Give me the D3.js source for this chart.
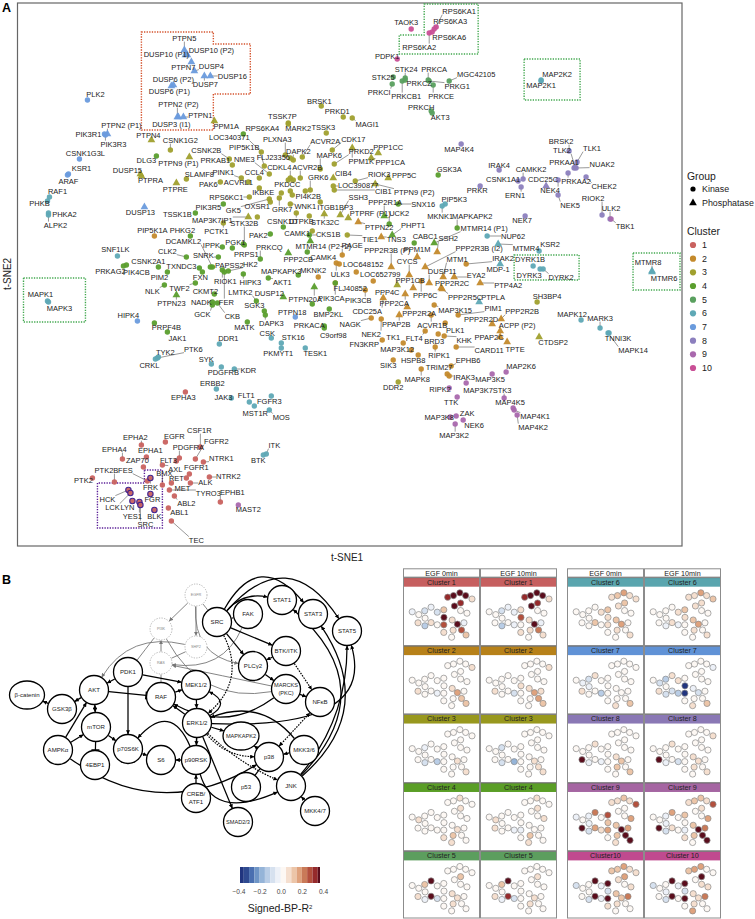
<!DOCTYPE html>
<html><head><meta charset="utf-8">
<script src="https://cdnjs.cloudflare.com/ajax/libs/d3/7.8.5/d3.min.js"></script>
<style>html,body{margin:0;padding:0;background:#fff}svg{display:block}text{font-family:"Liberation Sans",Arial,sans-serif}</style>
</head><body><svg id="fig" width="755" height="919"></svg>
<script>
// ---------- Panel A data: t-SNE readings, one list per cluster [name, tSNE1, tSNE2] ----------
const cluster1=[["EPHA3",185,392],["EPHA2",141,445],["EGFR",165,442],["CSF1R",200,447],["FGFR2",195,459],["PDGFRA",179,458],["EPHA1",146,457],["EPHA4",122,459],["FLT3",176,461],["NTRK1",203,462],["ZAP70",143,467],["AXL",162,465],["FGFR1",189,474],["NTRK2",209,477],["PTK2",92,478],["PTK2B",114,482],["FES",147,481],["BMX",162,485],["RET",186,478],["ALK",190,483],["MET",171,483],["TYRO3",169,490],["ABL2",174,496],["EPHB1",220,502],["ABL1",168,508],["TEC",171,521],["FRK",150,478],["HCK",128,490],["LCK",130,493],["LYN",132,501],["FGR",150,494],["YES1",139,502],["SRC",140,505],["BLK",154,510]];
const cluster2=[["PIP5K1A",154,236],["MKNK2",318,277],["RAGE",342,255],["LOC648152",339,264],["LOC652799",356,272],["FLJ40852",335,283],["ULK3",336,263],["PIK3CB",365,290],["",373,281],["PPP2R3B (P)",391,267],["PPM1M",417,257],["SSH2",437,252],["PPP2R3B (I2)",425,267],["CYCS",409,275],["MTM1",443,277],["DUSP11",429,283],["EYA2",454,277],["IRAK2",466,264],["PPP1CB",413,288],["PPP6C",421,281],["PPP2R2C",441,288],["PPP2R5C",442,289],["PTP4A2",480,283],["PPP2CA",405,294],["CDC25A",383,298],["PPP2R2A",407,307],["PPAP2B",399,315],["NAGK",371,318],["NEK2",381,319],["FN3KRP",382,340],["TK1",403,343],["FLT4",425,331],["MAP3K12",411,350],["HSPB8",418,355],["SIK3",393,360],["BRD3",438,334],["KHK",444,336],["ACVR1B",431,315],["PLK1",445,323],["MAP3K15",434,305],["PIM1",458,315],["RIPK1",435,347],["CARD11",456,347],["EPHB6",451,366],["MAPK8",421,369],["TRIM27",447,374],["IRAK3",449,376],["PPP2R2B",501,319],["PPP2R2D",492,324],["ACPP (P2)",500,331],["PPAP2C",500,337],["TPTE",507,342],["PTPN22",358,222],["TNS3",381,237]];
const cluster3=[["PPM1A",214,121],["PTPN4",151,140],["CSNK1G2",170,150],["PTPN9 (P1)",189,157],["DUSP15",140,174],["PTPRA",141,176],["PTPRE",176,183],["SLAMF8",186,179],["CSNK2B",229,159],["PRKAB1",232,165],["LOC340371",261,152],["PIP5K1B",264,166],["NME3",269,174],["PLXNA3",285,155],["TSSK7P",288,123],["MARK2",288,124],["TSSK3",326,133],["FLJ23356",290,158],["DAPK2",293,160],["ACVR2A",302,157],["CDK17",332,150],["MAPK6",320,169],["PRKD2",334,164],["PPM1K",352,148],["PPP1CC",378,153],["PPP1CA",371,158],["CDKL4",290,178],["ACVR2B",300,178],["PINK1",241,178],["ACVRL1",248,182],["PAK6",220,182],["CCL4",259,178],["GRK6",310,190],["CIB4",333,178],["RIOK3",355,181],["PPP5C",388,178],["LOC390877",333,186],["CIB1",334,190],["PTPN9 (P2)",375,184],["PKDCC",290,191],["PI4K2B",305,191],["IKBKE",259,188],["RPS6KC1",249,197],["GK5",269,199],["OXSR1",270,202],["GRK7",279,198],["WNK1",290,204],["ITGB1BP3",320,202],["SSH3",340,215],["PTPRF (P1)",348,218],["STK32C",324,214],["DTPKB",296,213],["PCTK1",223,223],["MAP3K7IP1",248,217],["CAMK1",312,231],["TIE1",347,235],["BRSK1",321,106],["PRKD1",343,117],["MAGI1",352,118],["SH3BP4",537,302],["CTDSP2",539,337],["DDR2",398,382],["PPP4C",397,285],["",281,193],["",257,217],["",309,216],["",293,180],["",288,180],["",292,195]];
const cluster4=[["RPS6KA4",243,134],["DLG3",156,156],["PIK3R5",223,204],["TSSK1B",195,213],["PHKG2",190,236],["DCAMKL2",212,267],["CLK2",186,257],["SNRK",218,257],["IPPK",222,247],["PGK1",243,244],["STK32B",244,245],["PRPS1",232,248],["PAK2",270,234],["CSNK1D",283,227],["CSNK2A1",158,267],["PRKAG2",126,265],["PIK4CB",123,266],["PIM2",167,272],["TXNDC3",199,268],["PAPSS2",210,267],["HK2",228,271],["PRKCQ",260,259],["MAPKAPK3",298,275],["AKT1",268,278],["HIPK3",243,274],["RIOK1",222,270],["FER",224,272],["FXN",202,272],["CKMT2",214,294],["TWF2",195,283],["NLK",164,285],["PTPN23",176,295],["NADK",212,302],["GCK",212,305],["CKB",217,303],["LMTK2",256,301],["DUSP12",283,297],["SGK3",264,311],["DAPK3",265,315],["MATK",247,322],["PTPN20A",314,287],["",312,304],["BMP2KL",329,309],["PRKACA",324,326],["C9orf98",324,328],["PRPF4B",154,323],["JAK1",167,332],["MTMR14 (P2−2)",310,241],["PPP2CB",288,253],["CAMK4",307,252],["PIK3CA",335,283],["CKS1B",309,235],["GSK3A",438,175],["UCK2",389,224],["SNX16",398,204],["PPP2R1A",384,216],["PHPT1",392,235],["CABC1",414,243],["MAPKAPK2",457,228],["MTMR14 (P1)",434,243]];
const cluster5=[["STK24",405,78],["STK25",393,77],["PRKCI",392,84],["PRKCB1",402,81],["PRKCZ",405,80],["PRKCA",428,80],["MGC42105",449,81],["PRKG1",429,81],["PRKCE",433,85],["PRKCH",431,111],["AKT3",432,113]];
const cluster6=[["RAF1",49,197],["PHKB",47,201],["PHKA2",48,213],["ALPK2",48,215],["SNF1LK",117,256],["MAPK1",47,301],["MAPK3",48,302],["DDR1",219,344],["CSK",271,338],["STK16",281,343],["PKMYT1",281,348],["TESK1",305,348],["TYK2",158,357],["PTK6",157,358],["CRKL",155,359],["SYK",211,364],["PDGFRB",221,367],["KDR",234,369],["ERBB2",216,389],["JAK3",231,398],["FLT1",249,402],["FGFR3",271,396],["MST1R",254,406],["MOS",269,410],["ITK",266,454],["BTK",263,455],["MAP2K2",541,80],["MAP2K1",541,81],["PIP5K3",445,204],["MKNK1",442,206],["NUP62",487,236],["MTMR4",498,244],["KSR2",539,251],["MDP-1",500,264],["DYRK1B",533,266],["DYRK3",540,269],["DYRK2",543,269],["MTMR8",652,271],["MTMR6",652,272],["PTPLA",479,302],["MAPK12",581,320],["MARK3",600,328],["TNNI3K",609,333],["MAPK14",608,333]];
const cluster7=[["PLK2",87,100],["PIK3R1",104,134],["PTPN2 (P1)",107,134],["PIK3R3",105,135],["CSNK1G3L",79,159],["KSR1",68,174],["ARAF",67,175],["DUSP13",144,207],["HIPK4",137,321],["PTPN18",295,317],["PTPN5",184,50],["DUSP10 (P1)",185,55],["DUSP10 (P2)",187,55],["PTPN7",191,62],["DUSP4",194,71],["DUSP7",204,76],["DUSP16",210,76],["DUSP6 (P2)",173,85],["DUSP6 (P1)",171,86],["PTPN2 (P2)",177,117],["PTPN1",183,117],["DUSP3 (I1)",178,117]];
const cluster8=[["MAP4K4",461,144],["IRAK4",499,170],["CAMKK2",523,179],["CSNK1A1",518,181],["CDC25C",546,186],["ERN1",521,187],["NEK4",558,180],["PRKAA2",568,173],["PRKAA1",574,168],["NUAK2",576,168],["BRSK2",569,151],["TLK2",575,167],["TLK1",577,162],["CHEK2",586,177],["PRKR",480,186],["NEK5",558,195],["NEK7",525,216],["RIOK2",602,215],["ULK2",610,219]];
const cluster9=[["TBK1",611,219],["MAST2",238,505],["MAP2K6",506,372],["MAP3K5",492,374],["MAP3K7",466,383],["RIPK2",449,388],["TTK",457,397],["STK3",504,398],["MAP4K5",513,408],["MAP4K1",514,410],["MAP4K2",517,415],["ZAK",456,416],["MAP3K8",450,417],["NEK6",463,420],["MAP3K2",455,424]];
const cluster10=[["TAOK3",411,29],["RPS6KA1",436,27],["RPS6KA3",434,29],["RPS6KA6",432,32],["RPS6KA2",429,33],["PDPK1",397,59]];
const clusterLists=[cluster1,cluster2,cluster3,cluster4,cluster5,cluster6,cluster7,cluster8,cluster9,cluster10];
const clusterNames=["1","2","3","4","5","6","7","8","9","10"];
const clusterColors=["#c9625f","#c48a2c","#a0a02e","#5a9e2d","#5aa05f","#5ea8b5","#6a9bdd","#8c7fbe","#a968ad","#c94f96"];
const stripColors=["#c65f5f","#b78119","#98981e","#5a9e26","#5c9e5e","#5aa5ae","#6092d6","#8a78b5","#a565a2","#c04a8f"];
const phosphatases=["PTPN5","DUSP10 (P1)","DUSP10 (P2)","PTPN7","DUSP4","DUSP7","DUSP16","DUSP6 (P2)","DUSP6 (P1)","PTPN2 (P2)","PTPN1","DUSP3 (I1)","PTPN2 (P1)","DUSP13","PPM1A","PTPN4","PTPN9 (P1)","DUSP15","PTPRA","PTPRE","PPM1K","PPP1CC","PPP1CA","CIB4","PPP5C","PTPN9 (P2)","SSH3","PTPRF (P1)","STK32C","MAP3K7IP1","CTDSP2","PPP4C","PPP2R3B (P)","PPM1M","SSH2","PPP2R3B (I2)","CYCS","MTM1","DUSP11","EYA2","PPP1CB","PPP2R2C","PPP2R5C","PTP4A2","PPP2CA","CDC25A","PPP2R2A","PPAP2B","PPP2R2B","PPP2R2D","ACPP (P2)","PPAP2C","TPTE","PTPN22","TNS3","PTPN23","DUSP12","PTPN20A","MTMR14 (P2−2)","PPP2CB","PPP2R1A","PHPT1","MTMR14 (P1)","MTMR4","MDP-1","MTMR8","MTMR6","PTPLA","CDC25C"];
const highlighted=["FRK","HCK","LCK","LYN","FGR","YES1","SRC","BLK"];

// ---------- Panel A label placement (repelled label centres) ----------
const labelSpots={PLK2:[95,94],PIK3R1:[88,134],"PTPN2 (P1)":[121,125],PIK3R3:[113,144],CSNK1G3L:[85,153],KSR1:[81,168],ARAF:[68,181],DUSP13:[140,212],HIPK4:[128,315],PTPN18:[292,312],PTPN5:[184,38],"DUSP10 (P1)":[166,54],"DUSP10 (P2)":[211,50],PTPN7:[183,67],DUSP4:[211,66],DUSP7:[205,84],DUSP16:[232,76],"DUSP6 (P2)":[173,79],"DUSP6 (P1)":[169,91],"PTPN2 (P2)":[178,104],PTPN1:[200,115],"DUSP3 (I1)":[171,124],
RAF1:[57,191],PHKB:[39,203],PHKA2:[64,214],ALPK2:[55,225],SNF1LK:[115,249],MAPK1:[40,294],MAPK3:[59,308],DDR1:[228,338],CSK:[267,333],STK16:[293,337],PKMYT1:[278,353],TESK1:[315,353],TYK2:[165,352],PTK6:[193,349],CRKL:[149,365],SYK:[206,359],PDGFRB:[223,372],KDR:[248,370],ERBB2:[212,383],JAK3:[223,397],FLT1:[246,395],FGFR3:[269,401],MST1R:[255,413],MOS:[281,417],ITK:[274,445],BTK:[258,460],MAP2K2:[557,74],MAP2K1:[541,85],PIP5K3:[454,199],MKNK1:[440,216],NUP62:[513,236],MTMR4:[526,248],KSR2:[550,244],"MDP-1":[498,269],DYRK1B:[530,259],DYRK3:[529,275],DYRK2:[561,277],MTMR8:[648,262],MTMR6:[664,278],PTPLA:[493,297],MAPK12:[572,314],MARK3:[600,318],TNNI3K:[618,338],MAPK14:[633,350],
EPHA3:[183,397],EPHA2:[135,437],EGFR:[174,436],CSF1R:[199,430],FGFR2:[216,441],PDGFRA:[188,447],EPHA1:[150,450],EPHA4:[114,449],FLT3:[168,460],NTRK1:[221,458],ZAP70:[137,460],AXL:[175,469],FGFR1:[196,467],NTRK2:[228,476],PTK2:[83,480],PTK2B:[106,470],FES:[125,470],BMX:[164,473],RET:[176,478],ALK:[205,482],MET:[182,488],TYRO3:[208,493],ABL2:[186,503],EPHB1:[232,492],ABL1:[179,512],TEC:[196,540],FRK:[150,487],HCK:[107,499],LCK:[112,507],LYN:[127,507],FGR:[152,499],YES1:[132,516],SRC:[145,524],BLK:[154,516],MAST2:[248,509],
TAOK3:[406,22],RPS6KA1:[459,11],RPS6KA3:[450,21],RPS6KA6:[449,37],RPS6KA2:[419,47],PDPK1:[387,56],
STK24:[406,69],STK25:[383,77],PRKCI:[379,92],PRKCB1:[406,96],PRKCZ:[419,83],PRKCA:[434,69],MGC42105:[476,74],PRKG1:[457,86],PRKCE:[441,96],PRKCH:[421,107],AKT3:[440,117],
MAP4K4:[459,149],GSK3A:[449,169],IRAK4:[499,165],CAMKK2:[531,169],CSNK1A1:[503,179],CDC25C:[543,179],ERN1:[515,195],NEK4:[550,190],PRKAA2:[576,181],PRKAA1:[564,162],NUAK2:[602,164],BRSK2:[561,141],TLK2:[562,150],TLK1:[592,148],CHEK2:[604,186],PRKR:[477,190],NEK5:[570,205],NEK7:[522,220],RIOK2:[593,198],ULK2:[611,208],TBK1:[625,226],
MAP2K6:[521,366],MAP3K5:[490,379],MAP3K7:[478,390],RIPK2:[440,389],TTK:[451,402],STK3:[502,390],MAP4K5:[510,402],MAP4K1:[535,416],MAP4K2:[533,427],ZAK:[467,413],MAP3K8:[439,417],NEK6:[474,425],MAP3K2:[454,435],
PPM1A:[226,126],PTPN4:[148,135],CSNK1G2:[180,140],"PTPN9 (P1)":[178,163],DUSP15:[127,170],PTPRA:[150,180],PTPRE:[175,189],SLAMF8:[199,174],CSNK2B:[206,150],PRKAB1:[215,160],LOC340371:[229,137],PIP5K1B:[244,147],NME3:[244,159],PLXNA3:[277,139],TSSK7P:[282,116],MARK2:[298,128],TSSK3:[323,127],FLJ23356:[273,157],DAPK2:[298,151],ACVR2A:[325,141],CDK17:[353,139],MAPK6:[329,155],PRKD2:[361,151],PPM1K:[361,161],PPP1CC:[388,147],PPP1CA:[390,162],CDKL4:[279,167],ACVR2B:[307,167],PINK1:[223,172],ACVRL1:[238,182],PAK6:[208,184],CCL4:[254,172],GRK6:[318,177],CIB4:[343,173],RIOK3:[379,174],PPP5C:[404,175],LOC390877:[358,185],CIB1:[383,191],"PTPN9 (P2)":[414,192],PKDCC:[287,184],PI4K2B:[308,196],IKBKE:[263,192],RPS6KC1:[226,197],GK5:[233,210],OXSR1:[257,206],GRK7:[282,209],WNK1:[305,206],ITGB1BP3:[335,207],SSH3:[358,197],"PTPRF (P1)":[370,213],STK32C:[325,222],DTPKB:[301,221],PCTK1:[216,231],MAP3K7IP1:[212,220],CAMK1:[297,233],TIE1:[370,239],BRSK1:[319,101],PRKD1:[337,111],MAGI1:[367,124],SH3BP4:[547,296],CTDSP2:[553,342],DDR2:[393,387],PPP4C:[387,292],
RPS6KA4:[262,128],DLG3:[146,160],PIK3R5:[208,207],TSSK1B:[177,214],PHKG2:[182,230],DCAMKL2:[183,241],CLK2:[167,251],SNRK:[203,255],IPPK:[211,245],PGK1:[235,242],STK32B:[244,223],PRPS1:[246,254],PAK2:[258,235],CSNK1D:[282,221],CSNK2A1:[148,261],PRKAG2:[110,271],PIK4CB:[136,272],PIM2:[159,277],TXNDC3:[181,266],PAPSS2:[229,265],HK2:[250,264],PRKCQ:[269,247],MAPKAPK3:[281,271],AKT1:[282,282],HIPK3:[250,282],RIOK1:[225,281],FER:[226,302],FXN:[200,277],CKMT2:[205,291],TWF2:[179,288],NLK:[152,291],PTPN23:[171,303],NADK:[201,302],GCK:[202,314],CKB:[232,316],LMTK2:[240,292],DUSP12:[269,293],SGK3:[254,305],DAPK3:[271,323],MATK:[244,327],PTPN20A:[305,299],BMP2KL:[328,314],PRKACA:[309,325],C9orf98:[333,335],PRPF4B:[166,327],JAK1:[177,338],"MTMR14 (P2−2)":[323,246],PPP2CB:[298,259],CAMK4:[323,257],PIK3CA:[331,298],CKS1B:[328,234],UCK2:[399,213],SNX16:[423,204],PPP2R1A:[385,202],PHPT1:[413,225],CABC1:[425,236],MAPKAPK2:[472,216],"MTMR14 (P1)":[484,228],
PIP5K1A:[152,230],MKNK2:[313,270],RAGE:[352,245],LOC648152:[363,264],LOC652799:[380,274],FLJ40852:[350,288],ULK3:[340,274],PIK3CB:[358,300],"PPP2R3B (P)":[387,250],PPM1M:[417,249],SSH2:[448,238],"PPP2R3B (I2)":[479,248],CYCS:[407,261],MTM1:[457,259],DUSP11:[442,271],EYA2:[476,275],IRAK2:[503,258],PPP1CB:[410,280],PPP6C:[425,295],PPP2R2C:[452,283],PPP2R5C:[465,297],PTP4A2:[508,285],PPP2CA:[394,303],CDC25A:[367,311],PPP2R2A:[419,313],PPAP2B:[396,324],NAGK:[350,324],NEK2:[371,334],FN3KRP:[364,344],TK1:[393,337],FLT4:[414,338],MAP3K12:[397,349],HSPB8:[413,360],SIK3:[388,365],BRD3:[434,341],KHK:[464,340],ACVR1B:[432,325],PLK1:[455,330],MAP3K15:[455,310],PIM1:[493,308],RIPK1:[439,355],CARD11:[489,350],EPHB6:[468,360],MAPK8:[417,379],TRIM27:[439,367],IRAK3:[464,377],PPP2R2B:[522,311],PPP2R2D:[481,319],"ACPP (P2)":[517,325],PPAP2C:[489,337],TPTE:[515,349],PTPN22:[379,227],TNS3:[396,239]};

// ---------- Panel A annotation outlines, in t-SNE reading units ----------
const boxRed=[[141,32],[213,32],[213,44],[250,44],[250,94],[213,94],[213,130],[141,130]];
const boxPurple=[[144,470],[162,470],[162,528],[97,528],[97,483],[144,483]];
const boxesGreen=[[[424,4],[478,4],[478,54],[399,54],[399,35],[424,35]],[[524,59],[580,59],[580,100],[524,100]],[[514,255],[579,255],[579,280],[514,280]],[[633,253],[680,253],[680,290],[633,290]],[[23,278],[85,278],[85,322],[23,322]]];

// ---------- Panel B network ----------
const nodeNames=["EGFR","PI3K","SHP2","RAS","SRC","FAK","STAT1","STAT3","STAT5","BTK/ITK","PLCγ2","MARCKS|(PKC)","NFκB","PDK1","AKT","RAF","MEK1/2","ERK1/2","GSK3β","β-catenin","mTOR","AMPKα","4EBP1","p70S6K","S6","p90RSK","CREB/|ATF1","MAPKAPK2","p38","MKK3/6","p53","JNK","MKK4/7","SMAD2/3"];
const nodeX=[196,161,196,161,217,248,282,313,347,286,253,286,320,128,94,161,196,197,62,27,96,58,95,128,161,196,196,241,269,304,246,291,315,238];
const nodeY=[595,629,647,663,622,614,600,614,631,651,666,689,702,672,690,697,685,723,709,695,727,750,765,749,760,760,798,736,757,750,787,786,811,822];
const greyNodes=["EGFR","PI3K","SHP2","RAS"];
// [from, to, kind, bend, skew]; kinds: a arrow, b bar, d both arrowheads, n none, g grey arrow, h grey plain, p dotted arrow, q dotted both
const edges=[["EGFR","PI3K","g",0],["EGFR","SHP2","g",0],["EGFR","SRC","h",0],["EGFR","PLCγ2","g",-40],["PI3K","PDK1","h",0],["SHP2","RAS","h",0],["RAS","PI3K","g",0],["SHP2","AKT","g",-40],["RAS","RAF","h",0],["PI3K","MARCKS|(PKC)","h",-50],["MARCKS|(PKC)","RAS","g",0],["FAK","RAS","g",38],
["SRC","FAK","n",0],["SRC","STAT1","a",20],["SRC","STAT3","a",70],["SRC","STAT5","a",85],["SRC","BTK/ITK","a",0],["SRC","PLCγ2","a",0],["BTK/ITK","PLCγ2","a",0],["PLCγ2","MARCKS|(PKC)","a",0],["BTK/ITK","NFκB","p",0],["MARCKS|(PKC)","NFκB","a",0],["MARCKS|(PKC)","RAF","a",40],["PDK1","AKT","a",0],["PDK1","MEK1/2","a",0],["PDK1","p70S6K","a",0],["AKT","RAF","b",0],["AKT","mTOR","d",0],["AKT","GSK3β","a",0],["GSK3β","β-catenin","a",0],["AMPKα","AKT","a",0],["AMPKα","mTOR","a",0],["mTOR","p70S6K","a",0],["mTOR","4EBP1","b",0],["p70S6K","S6","a",0],["p90RSK","S6","a",0],["RAF","MEK1/2","a",0],["MEK1/2","ERK1/2","a",0],["ERK1/2","RAF","a",0],["ERK1/2","MEK1/2","a",-35],["ERK1/2","p90RSK","a",0],["p90RSK","p70S6K","a",-54],["CREB/|ATF1","p90RSK","a",0],["ERK1/2","MAPKAPK2","a",0],["ERK1/2","SMAD2/3","a",0],["p38","MAPKAPK2","a",0],["MKK3/6","p38","a",0],["p38","p53","n",0],["MKK4/7","JNK","a",0],["AMPKα","p38","a",-70],["SRC","ERK1/2","p",40],["ERK1/2","p38","p",-18],["ERK1/2","JNK","p",-10],["p38","NFκB","q",0],["MKK3/6","ERK1/2","a",-40],["JNK","STAT1","a",-98],["JNK","STAT3","a",-76],["JNK","STAT5","a",-30],["ERK1/2","STAT5","a",-100,.85],["ERK1/2","JNK","a",-90]];

// ---------- Panel B colour scale ----------
const colorTicks=[-0.4,-0.2,0,0.2,0.4];
const colorBands=["#21357f","#2f4a90","#4a6fb0","#6f95c6","#95b4d8","#b9cde6","#d6e1ef","#edf1f8","#fdf8f4","#f5dfcf","#ecc5a8","#dfa27d","#c97a58","#b3503d","#962a2b","#5a0d1c"];

// ---------- Panel B small multiples: Signed-BP-R² per node ----------
const miniOrder=["SRC","FAK","STAT1","STAT3","STAT5","BTK/ITK","PLCγ2","MARCKS|(PKC)","NFκB","β-catenin","GSK3β","AKT","PDK1","RAF","MEK1/2","ERK1/2","mTOR","AMPKα","4EBP1","p70S6K","S6","p90RSK","CREB/|ATF1","MAPKAPK2","p38","MKK3/6","p53","JNK","MKK4/7","SMAD2/3"];
const c1at0=[.34,.4,.4,.4,.06,.32,.4,0,0,-.03,.02,-.06,-.02,-.06,.1,.4,.02,.05,-.1,.05,0,.28,.05,.07,.4,-.02,.05,.25,.1,.02];
const c1at10=[.34,.4,.4,.4,.05,.33,.4,0,0,0,0,-.07,-.02,-.04,.05,.28,0,.04,-.1,.03,-.02,0,.05,.06,.4,-.04,.05,.22,.08,0];
const c2at0=[0,0,0,0,.07,0,0,0,0,0,0,0,0,0,.03,.03,0,.05,0,0,-.04,.03,0,.07,.16,0,0,.14,.12,.04];
const c2at10=[0,0,0,0,.07,0,0,0,0,0,0,0,0,0,.02,.05,0,.05,0,0,-.05,.02,0,.09,.18,.05,0,.17,.14,.04];
const c3at0=[0,0,.03,0,0,0,0,0,0,0,0,-.04,.03,0,0,0,0,.04,-.06,0,-.14,0,0,0,.08,0,0,.04,.08,0];
const c3at10=[0,0,.02,0,0,0,0,0,0,0,0,-.05,.02,0,0,0,0,.04,-.05,0,-.16,0,0,.03,.07,0,0,.06,.06,0];
const c4at0=[0,0,.06,.02,0,.06,.02,0,.02,.03,.05,.02,.03,0,.02,.03,0,.04,0,.03,0,.03,.05,.03,.05,0,.1,0,0,.07];
const c4at10=[0,0,.07,0,0,.05,0,0,.05,0,.05,.02,.03,0,.03,.03,.02,.05,0,0,-.02,-.03,.04,0,.03,0,.12,0,.03,.07];
const c5at0=[0,0,.02,0,0,.1,0,0,0,0,0,.12,.4,0,0,.03,0,.07,-.04,.4,-.07,.03,.03,.06,.05,0,.07,0,.04,.03];
const c5at10=[0,0,0,0,0,.07,0,0,0,0,0,.13,.4,0,.03,0,0,.08,-.03,.33,-.06,0,0,.04,.05,0,.08,0,.03,.02];
const c6at0=[.07,.1,.18,.06,.08,.1,.06,.02,0,0,0,0,.03,.07,.1,.06,0,.04,0,.1,.02,.08,.03,.1,.2,0,.05,0,.08,.02];
const c6at10=[.05,.05,.16,.05,.1,.08,.05,0,.03,0,0,0,0,.08,.1,.06,0,.02,-.02,.08,-.02,.03,.02,.14,.18,0,.05,.03,.07,0];
const c7at0=[0,0,0,0,0,0,0,0,0,0,-.04,-.08,.05,.04,0,0,-.03,.05,0,.02,-.12,0,0,0,0,.03,.02,0,.12,.05];
const c7at10=[0,0,0,0,-.02,.02,0,0,0,0,-.05,-.11,.05,.05,.02,-.36,0,.05,-.06,-.05,-.15,-.36,0,-.03,-.07,0,.03,0,.12,.05];
const c8at0=[0,0,0,.02,.03,0,0,0,0,0,0,0,.05,0,.04,.03,0,.4,-.04,.02,-.04,.03,.02,.06,.14,0,.1,.02,.12,.03];
const c8at10=[0,0,0,.02,.05,0,0,0,0,0,0,0,.05,0,.04,0,0,.4,-.04,0,-.05,0,.02,.05,.08,0,.06,.02,.08,.03];
const c9at0=[.06,.08,.1,.05,.3,.04,.03,0,.2,-.04,0,-.02,.24,.03,.3,.12,-.02,.36,-.06,.16,.05,.2,.04,.14,.4,.2,.1,.38,.4,.05];
const c9at10=[.08,.1,.14,.06,.3,.06,.03,0,.2,0,0,-.03,.2,.04,.14,.03,-.02,.35,-.06,.08,.02,-.04,.05,.14,.37,.22,.1,.38,.4,.03];
const c10at0=[.12,.14,.18,.05,.05,.2,.05,.04,.08,-.05,0,0,.4,-.02,.4,-.05,0,.04,-.05,.4,-.04,.4,.06,.12,.1,.22,.06,.02,.02,.04];
const c10at10=[.1,.16,.2,0,.04,.38,0,.06,.08,-.07,0,0,.4,-.04,.4,-.08,-.02,.04,-.08,.4,0,.4,.02,.05,.06,.24,.05,0,.03,.2];
const tileValues=[[c1at0,c1at10],[c2at0,c2at10],[c3at0,c3at10],[c4at0,c4at10],[c5at0,c5at10],[c6at0,c6at10],[c7at0,c7at10],[c8at0,c8at10],[c9at0,c9at10],[c10at0,c10at10]];
const tileTitles=[["Cluster 1","Cluster 1"],["Cluster 2","Cluster 2"],["Cluster 3","Cluster 3"],["Cluster 4","Cluster 4"],["Cluster 5","Cluster 5"],["Cluster 6","Cluster 6"],["Cluster 7","Cluster 7"],["Cluster 8","Cluster 8"],["Cluster 9","Cluster 9"],["Cluster10","Cluster 10"]];
const headerTitles=["EGF 0min","EGF 10min"];

// ---------- Drawing ----------
const svg=d3.select("#fig");
const x=d3.scaleLinear().domain([17,682]).range([17.5,682]);
const y=d3.scaleLinear().domain([3,546]).range([3,546]);
svg.append("rect").attr("x",x(17)).attr("y",y(3)).attr("width",x(682)-x(17)).attr("height",y(546)-y(3)).attr("fill","#fff").attr("stroke","#666").attr("stroke-width",1.2);

const polyLine=d3.line().x(d=>x(d[0])).y(d=>y(d[1])).curve(d3.curveLinearClosed);
function dotted(pts,color){svg.append("path").attr("d",polyLine(pts)).attr("fill","none").attr("stroke",color).attr("stroke-width",1.4).attr("stroke-dasharray","1.3 1.3");}
dotted(boxRed,"#d4512b");
boxesGreen.forEach(b=>dotted(b,"#42a84f"));
dotted(boxPurple,"#5a1e96");

const pts=[];
clusterLists.forEach((list,ci)=>list.forEach(r=>pts.push({name:r[0],t1:r[1],t2:r[2],cluster:ci})));
const phosSet=new Set(phosphatases), hiSet=new Set(highlighted);
const tri=d3.symbol().type(d3.symbolTriangle).size(26);
const gLines=svg.append("g"), gPts=svg.append("g"), gLab=svg.append("g");
gPts.selectAll("path").data(pts.filter(d=>phosSet.has(d.name))).join("path")
  .attr("d",tri).attr("transform",d=>`translate(${x(d.t1)},${y(d.t2)})`).attr("fill",d=>clusterColors[d.cluster]).attr("opacity",.95);
gPts.selectAll("circle").data(pts.filter(d=>!phosSet.has(d.name))).join("circle")
  .attr("cx",d=>x(d.t1)).attr("cy",d=>y(d.t2)).attr("r",2.7).attr("fill",d=>clusterColors[d.cluster])
  .attr("stroke",d=>hiSet.has(d.name)?"#3a1a8c":"none").attr("stroke-width",1.1).attr("opacity",.95);
pts.filter(d=>d.name&&labelSpots[d.name]).forEach(d=>{
  const s=labelSpots[d.name];
  const t=gLab.append("text").attr("x",x(s[0])).attr("y",y(s[1])).attr("dy","0.35em").attr("text-anchor","middle").attr("font-size",7.5).attr("fill","#222").text(d.name);
  const b=t.node().getBBox();
  const px=x(d.t1),py=y(d.t2);
  const ex=Math.max(b.x,Math.min(px,b.x+b.width)), ey=Math.max(b.y+1,Math.min(py,b.y+b.height-1));
  if(Math.hypot(ex-px,ey-py)>4) gLines.append("line").attr("x1",px).attr("y1",py).attr("x2",ex).attr("y2",ey).attr("stroke","#444").attr("stroke-width",.55);
});

function txt(px,py,s,size,opt={}){return svg.append("text").attr("x",px).attr("y",py).attr("font-size",size).attr("fill",opt.fill||"#222").attr("font-weight",opt.weight||"normal").attr("text-anchor",opt.anchor||"start").text(s);}
txt(2,12,"A",12.5,{weight:"bold",fill:"#000"});
txt(2,584,"B",12.5,{weight:"bold",fill:"#000"});
txt(347,561,"t-SNE1",10,{anchor:"middle"});
svg.append("text").attr("transform","translate(11,274) rotate(-90)").attr("text-anchor","middle").attr("font-size",10).attr("fill","#222").text("t-SNE2");

// legend
txt(687,180,"Group",10.4);
svg.append("circle").attr("cx",693).attr("cy",189).attr("r",2.6).attr("fill","#000");
txt(702,192,"Kinase",8.9);
svg.append("path").attr("d",tri).attr("transform","translate(693,203)").attr("fill","#000");
txt(702,206,"Phosphatase",8.9);
txt(687,235,"Cluster",10.4);
const legY=d3.scalePoint().domain(clusterNames).range([245,368]);
clusterNames.forEach((c,i)=>{
  svg.append("circle").attr("cx",693).attr("cy",legY(c)).attr("r",3.1).attr("fill",clusterColors[i]);
  txt(702,legY(c)+3,c,8.9);
});

// network
const byName=new Map(nodeNames.map((n,i)=>[n,{name:n,x:nodeX[i],y:nodeY[i]}]));
function radii(n){ if(greyNodes.includes(n.name)) return [11,11]; if(n.name==="β-catenin") return [17.5,14]; if(n.name==="MAPKAPK2") return [18,14]; return [14.5,14.5];}
function rim(n,tx,ty,extra){const [a,b]=radii(n);const dx=tx-n.x,dy=ty-n.y,l=Math.hypot(dx,dy)||1;const k=1/Math.sqrt((dx/l)*(dx/l)/(a*a)+(dy/l)*(dy/l)/(b*b));return [n.x+dx/l*(k+extra),n.y+dy/l*(k+extra)];}
const defs=svg.append("defs");
[["arB","#000"],["arG","#777"]].forEach(([id,c])=>{
  defs.append("marker").attr("id",id).attr("viewBox","0 0 6 6").attr("refX",5.5).attr("refY",3).attr("markerWidth",4.2).attr("markerHeight",4.2).attr("markerUnits","userSpaceOnUse").attr("orient","auto-start-reverse").append("path").attr("d","M0,0L6,3L0,6Z").attr("fill",c);
});
const gEdge=svg.append("g").attr("fill","none");
edges.forEach(([f,t,kind,bend,skew])=>{
  const a=byName.get(f),b=byName.get(t);
  const dx=b.x-a.x,dy=b.y-a.y,l=Math.hypot(dx,dy), k=skew===undefined?.5:skew;
  const cx=a.x+k*dx+bend*dy/l, cy=a.y+k*dy-bend*dx/l;
  const s=rim(a,cx,cy,.5), e=rim(b,cx,cy,.5);
  const p=d3.path();p.moveTo(s[0],s[1]);p.quadraticCurveTo(cx,cy,e[0],e[1]);
  const grey=kind==="g"||kind==="h", dash=kind==="p"||kind==="q";
  const el=gEdge.append("path").attr("d",p.toString()).attr("stroke",grey?"#777":"#000").attr("stroke-width",grey?.9:(dash?1.2:1.25));
  if(dash) el.attr("stroke-dasharray","1.6 1.2");
  if(["a","d","g","p","q"].includes(kind)) el.attr("marker-end",grey?"url(#arG)":"url(#arB)");
  if(kind==="d"||kind==="q") el.attr("marker-start","url(#arB)");
  if(kind==="b"){const ux=(e[0]-cx),uy=(e[1]-cy),ul=Math.hypot(ux,uy);gEdge.append("line").attr("x1",e[0]-uy/ul*4).attr("y1",e[1]+ux/ul*4).attr("x2",e[0]+uy/ul*4).attr("y2",e[1]-ux/ul*4).attr("stroke","#000").attr("stroke-width",1.5);}
});
const gNode=svg.append("g");
byName.forEach(n=>{
  const [a,b]=radii(n), grey=greyNodes.includes(n.name);
  const el=gNode.append("ellipse").attr("cx",n.x).attr("cy",n.y).attr("rx",a).attr("ry",b).attr("fill","#fff").attr("stroke",grey?"#999":"#000").attr("stroke-width",grey?.7:1.3);
  if(grey) el.attr("stroke-dasharray","1.3 1.3");
  const lines=n.name.split("|");
  lines.forEach((s,i)=>gNode.append("text").attr("x",n.x).attr("y",n.y+(i-(lines.length-1)/2)*8).attr("dy","0.35em").attr("text-anchor","middle").attr("font-size",grey?3.8:(n.name==="MAPKAPK2"||n.name==="SMAD2/3"||n.name.startsWith("MARCKS")?5.6:6.1)).attr("fill",grey?"#888":"#222").text(s));
});

// colour bar
const barScale=d3.scaleLinear().domain([-0.4,0.4]).range([238.5,323]);
const bandScale=d3.scaleQuantize().domain([-0.4,0.4]).range(colorBands);
const stops=d3.range(colorBands.length);
const bandW=(barScale(0.4)-barScale(-0.4))/colorBands.length;
svg.append("g").selectAll("rect").data(stops).join("rect")
  .attr("x",i=>Math.max(240,barScale(-0.4)+i*bandW)).attr("y",867)
  .attr("width",i=>Math.min(320,barScale(-0.4)+(i+1)*bandW)-Math.max(240,barScale(-0.4)+i*bandW)).attr("height",16)
  .attr("fill",i=>colorBands[i]);
const cbAxis=d3.axisBottom(barScale).tickValues(colorTicks).tickSize(0).tickPadding(0).tickFormat(d=>d3.format(".1f")(d).replace("-","−"));
const cbG=svg.append("g").attr("transform","translate(0,889)").call(cbAxis);
cbG.select(".domain").remove();
cbG.selectAll("text").attr("font-size",6.6).attr("fill","#444").style("font-family",'"Liberation Sans",Arial,sans-serif');
const st=txt(280,912,"Signed-BP-R",10.5,{anchor:"middle"});
st.append("tspan").attr("font-size",6).attr("dy",-3.5).text("2");

// tiles
const colLefts=[403.5,480.5,567.5,644.5], colW=76;
const stripTops=d3.scalePoint().domain([0,1,2,3,4]).range([577.3,851]);
const miniX=d3.scaleLinear().domain([27,347]).range([8.7,68.5]);
const miniY=d3.scaleLinear().domain([631,822]).range([12.3,50.5]);
const rowH=68.4, panelBottom=918;
function tile(cluster,col,row){
  const L=colLefts[col],T=stripTops(row);
  const H=Math.min(rowH,panelBottom-T);
  const g=svg.append("g").attr("transform",`translate(${L},${T})`);
  const which=col%2;
  g.append("rect").attr("width",colW).attr("height",H).attr("fill","#fff");
  g.append("rect").attr("y",0).attr("width",colW).attr("height",9.4).attr("fill",stripColors[cluster]);
  g.append("line").attr("x1",0).attr("x2",colW).attr("y1",.3).attr("y2",.3).attr("stroke","#666").attr("stroke-width",1);
  g.append("text").attr("x",colW/2).attr("y",7.3).attr("text-anchor","middle").attr("font-size",7.2).attr("fill","#222").text(tileTitles[cluster][which]);
  const vals=tileValues[cluster][which];
  const top=9.4;
  g.selectAll("circle").data(miniOrder).join("circle")
   .attr("cx",n=>miniX(byName.get(n).x)).attr("cy",n=>top+miniY(byName.get(n).y))
   .attr("r",3.1).attr("fill",(n,i)=>bandScale(vals[i])).attr("stroke","#8a8a8a").attr("stroke-width",.7);
  g.append("rect").attr("width",colW).attr("height",H).attr("fill","none").attr("stroke","#8c8c8c").attr("stroke-width",1);
}
[0,1,2,3].forEach(col=>{
  const L=colLefts[col];
  svg.append("rect").attr("x",L).attr("y",568.8).attr("width",colW).attr("height",8.5).attr("fill","#fff").attr("stroke","#8c8c8c").attr("stroke-width",1);
  txt(L+colW/2,575.6,headerTitles[col%2],7.2,{anchor:"middle"});
  d3.range(5).forEach(r=>tile(col<2?r:r+5,col,r));
});
</script></body></html>
